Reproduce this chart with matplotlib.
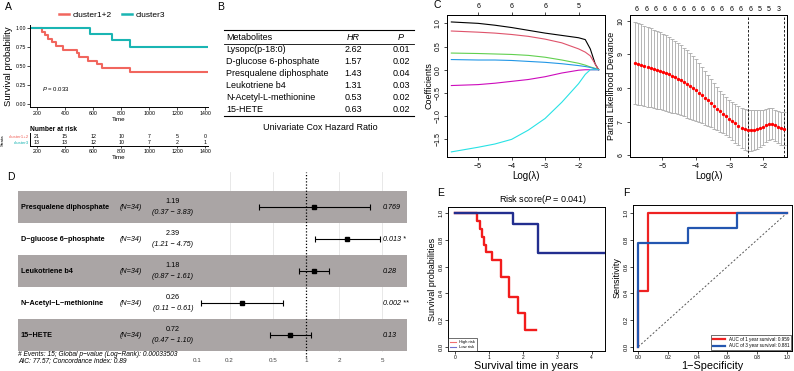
import numpy as np
import matplotlib
matplotlib.use("Agg")
import matplotlib.pyplot as plt
from matplotlib.lines import Line2D

plt.rcParams['font.family'] = ['Liberation Sans', 'DejaVu Sans']
plt.rcParams['mathtext.fontset'] = 'custom'
plt.rcParams['mathtext.rm'] = 'Liberation Sans'
plt.rcParams['mathtext.it'] = 'Liberation Sans:italic'
plt.rcParams['axes.linewidth'] = 0.7

W, H = 794, 371

# ---------------- data ----------------
# A: KM curves by cluster
km_t_c12 = [150, 236, 257, 281, 305, 336, 388, 483, 502, 566, 626, 662, 864, 1410]
km_s_c12 = [1.0, 0.952, 0.905, 0.857, 0.810, 0.762, 0.714, 0.667, 0.619, 0.571, 0.524, 0.476, 0.417, 0.417]
km_t_c3 = [150, 580, 733, 864, 1410]
km_s_c3 = [1.0, 0.923, 0.846, 0.75, 0.75]
risk_times = [200, 400, 600, 800, 1000, 1200, 1400]
risk_c12 = [21, 15, 12, 10, 7, 5, 0]
risk_c3 = [13, 13, 12, 10, 7, 2, 1]

# B: univariate cox table
tab_names = ["Lysopc(p-18:0)", "D-glucose 6-phosphate", "Presqualene diphosphate",
             "Leukotriene b4", "N-Acetyl-L-methionine", "15-HETE"]
tab_hr = ["2.62", "1.57", "1.43", "1.31", "0.53", "0.63"]
tab_p = ["0.01", "0.02", "0.04", "0.03", "0.02", "0.02"]

# C left: lasso coefficient paths
path_lam = [-5.8, -5.0, -4.5, -4.0, -3.5, -3.0, -2.5, -2.0, -1.8, -1.65, -1.5, -1.4]
path_black = [1.03, 1.0, 0.96, 0.91, 0.85, 0.79, 0.74, 0.69, 0.65, 0.45, 0.12, 0.0]
path_red = [0.835, 0.81, 0.79, 0.76, 0.72, 0.66, 0.58, 0.45, 0.38, 0.30, 0.12, 0.0]
path_green = [0.36, 0.35, 0.34, 0.33, 0.31, 0.27, 0.21, 0.14, 0.10, 0.06, 0.03, 0.0]
path_blue = [0.22, 0.21, 0.21, 0.20, 0.18, 0.16, 0.13, 0.09, 0.07, 0.05, 0.02, 0.0]
path_purple = [-0.34, -0.32, -0.29, -0.25, -0.21, -0.15, -0.07, -0.01, 0.0, 0.0, 0.0, 0.0]
path_cyan = [-1.77, -1.67, -1.60, -1.50, -1.30, -1.05, -0.70, -0.30, -0.10, 0.0, 0.0, 0.0]

# C right: cross-validation deviance
cv_lam = [-5.80, -5.71, -5.62, -5.53, -5.44, -5.35, -5.26, -5.17, -5.08, -4.99,
          -4.90, -4.81, -4.72, -4.63, -4.54, -4.45, -4.36, -4.27, -4.18, -4.09,
          -4.00, -3.91, -3.82, -3.73, -3.64, -3.55, -3.46, -3.37, -3.28, -3.19,
          -3.10, -3.01, -2.92, -2.83, -2.74, -2.65, -2.56, -2.47, -2.38, -2.29,
          -2.20, -2.11, -2.02, -1.93, -1.84, -1.75, -1.66, -1.57, -1.48, -1.39]
cv_mean = [8.75, 8.72, 8.69, 8.66, 8.63, 8.60, 8.57, 8.54, 8.51, 8.48,
           8.45, 8.41, 8.37, 8.33, 8.28, 8.23, 8.18, 8.12, 8.06, 8.00, 7.94,
           7.86, 7.79, 7.71, 7.63, 7.55, 7.47, 7.39, 7.31, 7.23, 7.16, 7.09,
           7.02, 6.95, 6.88, 6.82, 6.77, 6.74,
           6.74, 6.75, 6.77, 6.80, 6.84, 6.89,
           6.93, 6.94, 6.90, 6.84, 6.80, 6.79]
cv_se = [1.22, 1.21, 1.20, 1.19, 1.18, 1.17, 1.16, 1.15, 1.14, 1.13,
         1.12, 1.11, 1.10, 1.08, 1.06, 1.04, 1.02, 1.00, 0.97, 0.94, 0.91,
         0.88, 0.84, 0.80, 0.76, 0.72, 0.68, 0.64, 0.61, 0.58, 0.56, 0.55,
         0.56, 0.57, 0.58, 0.59, 0.60, 0.61,
         0.61, 0.60, 0.58, 0.55, 0.52, 0.49,
         0.47, 0.46, 0.46, 0.47, 0.48, 0.49]
cv_top_pos = [-5.76, -5.48, -5.20, -4.92, -4.64, -4.36, -4.08, -3.80,
              -3.51, -3.23, -2.95, -2.67, -2.39, -2.11, -1.83, -1.55]
cv_top_df = ["6"] * 13 + ["5", "5", "3"]
lam_min, lam_1se = -2.47, -1.39

# D: multivariate forest plot
fp_names = ["Presqualene diphosphate", "D\u2212glucose 6\u2212phosphate", "Leukotriene b4",
            "N\u2212Acetyl\u2212L\u2212methionine", "15\u2212HETE"]
fp_hr = [1.19, 2.39, 1.18, 0.26, 0.72]
fp_lo = [0.37, 1.21, 0.87, 0.11, 0.47]
fp_hi = [3.83, 4.75, 1.61, 0.61, 1.10]
fp_p = ["0.769", "0.013 *", "0.28", "0.002 **", "0.13"]
fp_ticks = [0.1, 0.2, 0.5, 1, 2, 5]

# E: risk score KM
e_high_t = [0, 0.64, 0.72, 0.80, 0.85, 0.90, 1.09, 1.35, 1.58, 1.84, 2.05, 2.38]
e_high_s = [1.0, 0.94, 0.88, 0.82, 0.76, 0.71, 0.65, 0.52, 0.375, 0.25, 0.125, 0.125]
e_low_t = [0, 1.70, 2.42, 4.36]
e_low_s = [1.0, 0.92, 0.70, 0.70]

# F: time dependent ROC
roc1_fpr = [0, 0, 0.067, 0.067, 1.0]
roc1_tpr = [0, 0.42, 0.42, 1.0, 1.0]
roc3_fpr = [0, 0, 0.333, 0.333, 0.667, 0.667, 1.0]
roc3_tpr = [0, 0.775, 0.775, 0.887, 0.887, 1.0, 1.0]

# ---------------- helpers ----------------
fig = plt.figure(figsize=(W / 100, H / 100), dpi=100)


def add_ax(x0, y0, x1, y1):
    return fig.add_axes([x0 / W, 1 - y1 / H, (x1 - x0) / W, (y1 - y0) / H])


def ftext(x, y, s, **kw):
    kw.setdefault('va', 'center')
    fig.text(x / W, 1 - y / H, s, **kw)


def fline(x0, x1, y, lw=0.8):
    fig.add_artist(Line2D([x0 / W, x1 / W], [1 - y / H, 1 - y / H], color='k', lw=lw))


def rotate_y(ax):
    for lab in ax.get_yticklabels():
        lab.set_rotation(90)
        lab.set_va('center')


for lab, x, y in [("A", 5, 7), ("B", 217, 7), ("C", 433, 5), ("D", 7, 177), ("E", 437, 193), ("F", 623, 193)]:
    ftext(x, y, lab, fontsize=7.5)

# ---------------- A ----------------
red_a, teal_a = '#F1665E', '#1AB5B3'
axA = add_ax(30, 25, 208, 107)
axA.step(km_t_c12, km_s_c12, where='post', color=red_a, lw=1.5)
axA.step(km_t_c3, km_s_c3, where='post', color=teal_a, lw=1.5)
axA.set_xlim(150, 1420)
axA.set_ylim(-0.04, 1.04)
axA.set_xticks(risk_times)
axA.set_yticks([0, 0.25, 0.5, 0.75, 1.0])
axA.set_yticklabels(["0.00", "0.25", "0.50", "0.75", "1.00"])
axA.tick_params(labelsize=3.8, length=2, width=0.5, pad=1)
for s in ['top', 'right']:
    axA.spines[s].set_visible(False)
axA.set_ylabel("Survival probability", fontsize=6.8, labelpad=2)
axA.set_xlabel("Time", fontsize=4.5, labelpad=0.5)
axA.text(235, 0.2, r"$\mathit{P}$ = 0.033", fontsize=4.3, va='center')
fig.legend(handles=[Line2D([], [], color=red_a, lw=1.8), Line2D([], [], color=teal_a, lw=1.8)],
           labels=["cluster1+2", "cluster3"], ncol=2, frameon=False, fontsize=6,
           loc='center', bbox_to_anchor=(112 / W, 1 - 15 / H), handlelength=1.2,
           handletextpad=0.4, columnspacing=1.2)

axR = add_ax(30, 133, 208, 146)
axR.set_xlim(150, 1420)
axR.set_ylim(0, 1)
for t, a, b in zip(risk_times, risk_c12, risk_c3):
    axR.text(t, 0.75, str(a), fontsize=3.8, ha='center', va='center')
    axR.text(t, 0.3, str(b), fontsize=3.8, ha='center', va='center')
axR.set_xticks(risk_times)
axR.set_yticks([0.3, 0.75])
axR.set_yticklabels(["cluster3", "cluster1+2"])
for lab, c in zip(axR.get_yticklabels(), [teal_a, red_a]):
    lab.set_color(c)
axR.tick_params(labelsize=3.8, length=1.5, width=0.5, pad=1)
axR.tick_params(axis='y', length=0, labelsize=3.2)
for s in ['top', 'right']:
    axR.spines[s].set_visible(False)
axR.set_xlabel("Time", fontsize=4.5, labelpad=0.5)
axR.set_title("Number at risk", fontsize=4.8, loc='left', pad=1.5, fontweight='bold')
ftext(3, 140, "Strata", fontsize=3.2, rotation=90, ha='center')

# ---------------- B ----------------
fline(224, 414, 30)
fline(224, 414, 43.5, lw=0.6)
fline(224, 414, 116)
ftext(226, 37.3, "Metabolites", fontsize=6.5)
ftext(353, 37.3, "HR", fontsize=6.5, style='italic', ha='center')
ftext(401, 37.3, "P", fontsize=6.5, style='italic', ha='center')
for i, (n, hr, p) in enumerate(zip(tab_names, tab_hr, tab_p)):
    y = 50 + i * 11.8
    ftext(226, y, n, fontsize=6.5)
    ftext(353, y, hr, fontsize=6.5, ha='center')
    ftext(401, y, p, fontsize=6.5, ha='center')
ftext(320, 127, "Univariate Cox Hazard Ratio", fontsize=6.5, ha='center')

# ---------------- C left ----------------
axC = add_ax(447, 15, 605, 157)
for vals, c in [(path_black, 'black'), (path_red, '#DF536B'), (path_green, '#61D04F'),
                (path_blue, '#2297E6'), (path_purple, '#CD0BBC'), (path_cyan, '#28E2E5')]:
    axC.plot(path_lam, vals, color=c, lw=0.8)
axC.set_xlim(-5.93, -1.21)
axC.set_ylim(-1.88, 1.18)
axC.set_xticks([-5, -4, -3, -2])
axC.set_xticklabels(["\u22125", "\u22124", "\u22123", "\u22122"])
axC.set_yticks([-1.5, -1.0, -0.5, 0.0, 0.5, 1.0])
axC.set_yticklabels(["\u22121.5", "\u22121.0", "\u22120.5", "0.0", "0.5", "1.0"])
axC.tick_params(labelsize=5, length=2.5, width=0.5, pad=1.5)
rotate_y(axC)
axC.set_ylabel("Coefficients", fontsize=6.4, labelpad=1)
axC.set_xlabel("Log(\u03bb)", fontsize=7, labelpad=1)
axCt = axC.twiny()
axCt.set_xlim(axC.get_xlim())
axCt.set_xticks([-5, -4, -3, -2])
axCt.set_xticklabels(["6", "6", "6", "5"])
axCt.tick_params(labelsize=5, length=2.5, width=0.5, pad=1)

# ---------------- C right ----------------
axV = add_ax(630, 15, 787, 157)
axV.errorbar(cv_lam, cv_mean, yerr=cv_se, fmt='o', color='red', ms=1.4,
             ecolor='#aaaaaa', elinewidth=0.6, capsize=1.2, capthick=0.6)
axV.axvline(lam_min, color='k', ls=(0, (3, 2)), lw=0.6)
axV.axvline(lam_1se, color='k', ls=(0, (3, 2)), lw=0.6)
axV.set_xlim(-5.96, -1.3)
axV.set_ylim(5.95, 10.17)
axV.set_xticks([-5, -4, -3, -2])
axV.set_xticklabels(["\u22125", "\u22124", "\u22123", "\u22122"])
axV.set_yticks([6, 7, 8, 9, 10])
axV.tick_params(labelsize=5, length=2.5, width=0.5, pad=1.5)
rotate_y(axV)
axV.set_ylabel("Partial Likelihood Deviance", fontsize=6.4, labelpad=1)
axV.set_xlabel("Log(\u03bb)", fontsize=7, labelpad=1)
axVt = axV.twiny()
axVt.set_xlim(axV.get_xlim())
axVt.set_xticks(cv_top_pos)
axVt.set_xticklabels(cv_top_df)
axVt.tick_params(labelsize=5, length=0, pad=1.5)

# ---------------- D ----------------
band = '#AAA5A5'
axD = add_ax(18, 172, 407, 352)
axD.set_xlim(-2.635, 0.924)
axD.set_ylim(5.53, -0.094)
for v in fp_ticks[1:]:
    if v != 1:
        axD.axvline(np.log10(v), color='#e4e4e4', lw=0.6, zorder=0)
for i in range(0, len(fp_names), 2):
    axD.axhspan(i + 0.5, i + 1.5, color=band, lw=0, zorder=1)
axD.axvline(0, color='k', ls=(0, (1, 1.5)), lw=0.9, zorder=3, clip_on=False, ymin=-0.03)
for i in range(len(fp_names)):
    r = i + 1
    axD.text(-2.61, r, fp_names[i], fontsize=5.2, fontweight='bold', va='center', zorder=4)
    axD.text(-1.60, r, "(N=34)", fontsize=5.2, style='italic', ha='center', va='center', zorder=4)
    axD.text(-1.217, r - 0.17, "%.2f" % fp_hr[i], fontsize=5.2, ha='center', va='center', zorder=4)
    axD.text(-1.217, r + 0.16, "(%.2f \u2212 %.2f)" % (fp_lo[i], fp_hi[i]), fontsize=5.2,
             style='italic', ha='center', va='center', zorder=4)
    axD.text(0.70, r, fp_p[i], fontsize=5.2, style='italic', va='center', zorder=4)
axD.errorbar(np.log10(fp_hr), np.arange(1, len(fp_hr) + 1),
             xerr=[np.log10(fp_hr) - np.log10(fp_lo), np.log10(fp_hi) - np.log10(fp_hr)],
             fmt='s', color='black', ms=2.3, elinewidth=0.8, capsize=2, capthick=0.8, zorder=5)
axD.set_xticks(np.log10(fp_ticks))
axD.set_xticklabels([str(v) for v in fp_ticks])
axD.set_yticks([])
axD.tick_params(axis='x', length=0, labelsize=4.5, labelcolor='#444444', pad=4)
for s in axD.spines.values():
    s.set_visible(False)
ftext(18, 355, "# Events: 15; Global p\u2212value (Log\u2212Rank): 0.00033503", fontsize=4.8, style='italic')
ftext(18, 360.5, "AIC: 77.57; Concordance Index: 0.89", fontsize=4.8, style='italic')

# ---------------- E ----------------
red_e, blue_e = '#F21C1C', '#222E8F'
axE = add_ax(448, 207, 605, 351)
axE.step(e_high_t, e_high_s, where='post', color=red_e, lw=1.7)
axE.step(e_low_t, e_low_s, where='post', color=blue_e, lw=1.7)
axE.set_xlim(-0.205, 4.386)
axE.set_ylim(-0.032, 1.047)
axE.set_xticks([0, 1, 2, 3, 4])
axE.set_yticks([0, 0.2, 0.4, 0.6, 0.8, 1.0])
axE.set_yticklabels(["0.0", "0.2", "0.4", "0.6", "0.8", "1.0"])
axE.tick_params(labelsize=4.2, length=2, width=0.5, pad=1)
axE.tick_params(axis='x', labelsize=3.5)
rotate_y(axE)
axE.set_ylabel("Survival probabilities", fontsize=6.5, labelpad=1.5)
axE.set_xlabel("Survival time in years", fontsize=7.8, labelpad=0.5)
ftext(543, 200, r"Risk score($\mathit{P}$ = 0.041)", fontsize=6.5, ha='center')
axE.legend(handles=[Line2D([], [], color='#F07070', lw=0.8), Line2D([], [], color='#7070D0', lw=0.8)],
           labels=["High risk", "Low risk"], loc='lower left', fontsize=3, frameon=True,
           fancybox=False, edgecolor='black', borderpad=0.4, handlelength=1.5,
           borderaxespad=0, labelspacing=0.3).get_frame().set_linewidth(0.5)

# ---------------- F ----------------
axF = add_ax(633, 205, 792, 351)
axF.plot([0, 1], [0, 1], color='#555555', ls=(0, (2, 2)), lw=0.7)
axF.plot(roc1_fpr, roc1_tpr, color='#EE2222', lw=1.6, label="AUC of 1 year survival: 0.959")
axF.plot(roc3_fpr, roc3_tpr, color='#2356B0', lw=1.6, label="AUC of 3 year survival: 0.881")
axF.set_xlim(-0.036, 1.036)
axF.set_ylim(-0.032, 1.062)
axF.set_xticks([0, 0.2, 0.4, 0.6, 0.8, 1.0])
axF.set_xticklabels(["0.0", "0.2", "0.4", "0.6", "0.8", "1.0"])
axF.set_yticks([0, 0.2, 0.4, 0.6, 0.8, 1.0])
axF.set_yticklabels(["0.0", "0.2", "0.4", "0.6", "0.8", "1.0"])
axF.tick_params(labelsize=4.2, length=2, width=0.5, pad=1)
axF.tick_params(axis='x', labelsize=3.5)
rotate_y(axF)
axF.set_ylabel("Sensitivity", fontsize=6.5, labelpad=1.5)
axF.set_xlabel("1\u2212Specificity", fontsize=7.8, labelpad=0.5)
axF.legend(loc='lower right', fontsize=3.3, frameon=True, fancybox=False, edgecolor='black',
           borderpad=0.4, handlelength=2.6, borderaxespad=0.2,
           labelspacing=0.3).get_frame().set_linewidth(0.5)

fig.savefig("out.png", dpi=100)
